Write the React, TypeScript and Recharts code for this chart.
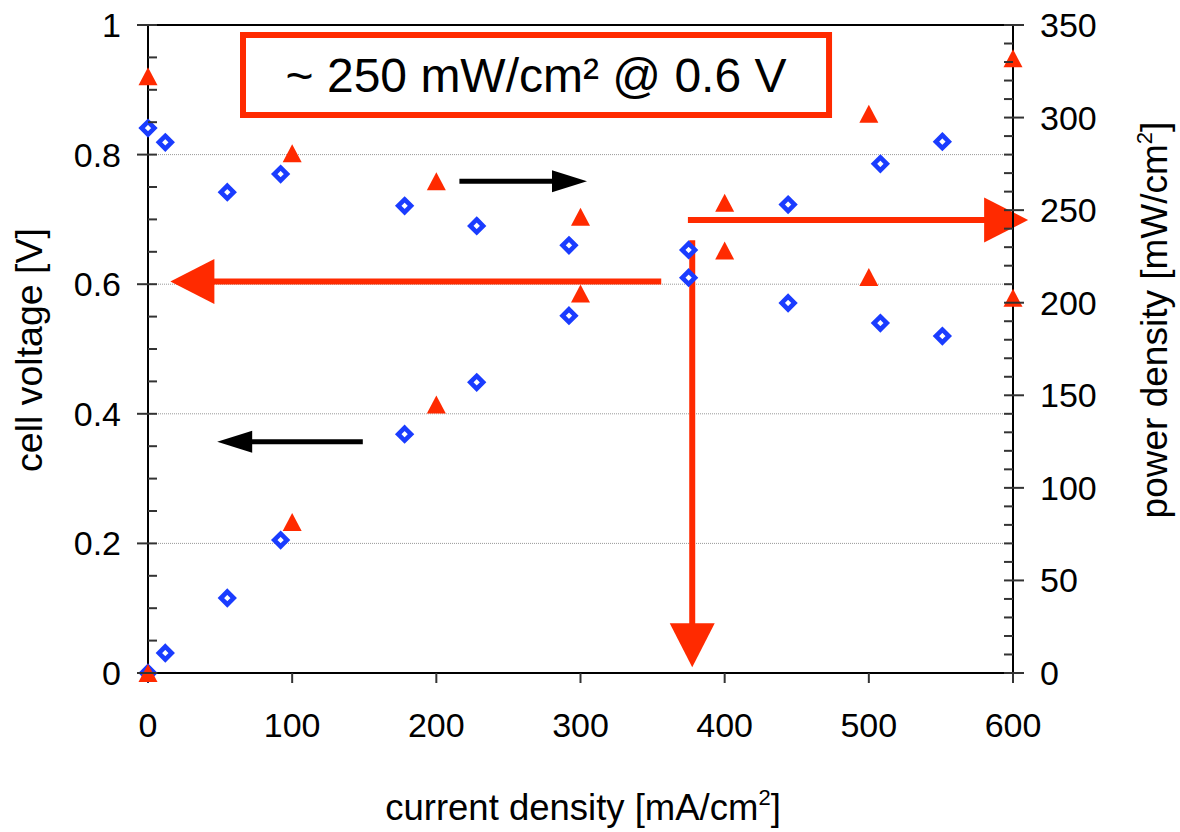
import {
  CartesianGrid,
  ReferenceArea,
  ReferenceLine,
  Scatter,
  ScatterChart,
  XAxis,
  YAxis,
} from 'recharts'

const FONT = '"Liberation Sans", Arial, sans-serif'
const RED = '#ff2a00'
const BLUE = '#1a3cff'

// blue diamonds: cell voltage (left) and power density (right)
const blueCurrent = [0, 12, 55, 92, 178, 228, 292, 375, 444, 508, 551]
const blueVoltage = [0.841, 0.819, 0.742, 0.77, 0.721, 0.69, 0.66, 0.61, 0.571, 0.54, 0.52]
const bluePower = [0, 10.8, 40.5, 71.8, 129, 157, 193, 228.5, 253, 275, 287]

// red triangles
const redCurrent = [0, 100, 200, 300, 400, 500, 600]
const redVoltage = [0.921, 0.802, 0.759, 0.704, 0.652, 0.611, 0.579]
const redPower = [0, 81.6, 145, 205, 254, 302, 332]

const xTicks = [0, 100, 200, 300, 400, 500, 600]
const leftTicks = [
  0, 0.05, 0.1, 0.15, 0.2, 0.25, 0.3, 0.35, 0.4, 0.45, 0.5, 0.55, 0.6, 0.65,
  0.7, 0.75, 0.8, 0.85, 0.9, 0.95, 1,
]
const rightTicks = [
  0, 10, 20, 30, 40, 50, 60, 70, 80, 90, 100, 110, 120, 130, 140, 150, 160,
  170, 180, 190, 200, 210, 220, 230, 240, 250, 260, 270, 280, 290, 300, 310,
  320, 330, 340, 350,
]
const gridValues = [0.2, 0.4, 0.6, 0.8]

// annotation arrows, in (current, voltage) units: [from, to]
const blackArrows = [
  [{ x: 216, y: 0.759 }, { x: 304.5, y: 0.759 }],
  [{ x: 149, y: 0.357 }, { x: 48, y: 0.357 }],
]
const redArrows = [
  [{ x: 356, y: 0.604 }, { x: 15.5, y: 0.604 }],
  [{ x: 377.5, y: 0.668 }, { x: 377.5, y: 0.009 }],
  [{ x: 374.5, y: 0.699 }, { x: 610.5, y: 0.699 }],
]

const toPoints = (xs: number[], ys: number[]) => xs.map((x, i) => ({ x, y: ys[i] }))

const Diamond = (p: any) => (
  <path
    d={`M${p.cx},${p.cy - 6.4}L${p.cx + 6.4},${p.cy}L${p.cx},${p.cy + 6.4}L${p.cx - 6.4},${p.cy}Z`}
    fill="#fff"
    stroke={BLUE}
    strokeWidth={4.6}
  />
)

const Triangle = (p: any) => (
  <polygon
    points={`${p.cx},${p.cy - 9} ${p.cx + 9.5},${p.cy + 9} ${p.cx - 9.5},${p.cy + 9}`}
    fill={RED}
  />
)

const makeArrow =
  (color: string, lineW: number, headLen: number, headHalf: number) =>
  (p: any) => {
    const { x1, y1, x2, y2 } = p
    const len = Math.hypot(x2 - x1, y2 - y1) || 1
    const ux = (x2 - x1) / len
    const uy = (y2 - y1) / len
    const bx = x2 - ux * headLen
    const by = y2 - uy * headLen
    const nx = -uy
    const ny = ux
    return (
      <g>
        <line
          x1={x1}
          y1={y1}
          x2={bx + ux * 2}
          y2={by + uy * 2}
          stroke={color}
          strokeWidth={lineW}
        />
        <polygon
          points={`${x2},${y2} ${bx + nx * headHalf},${by + ny * headHalf} ${bx - nx * headHalf},${by - ny * headHalf}`}
          fill={color}
        />
      </g>
    )
  }

const isMajor = (v: number, step: number) =>
  Math.abs(v / step - Math.round(v / step)) < 1e-6

const LeftTick = (p: any) => {
  const v: number = p.payload.value
  const major = isMajor(v, 0.2)
  return (
    <g>
      <line
        x1={major ? p.x - 11 : p.x}
        x2={p.x + 9}
        y1={p.y}
        y2={p.y}
        stroke="#333"
        strokeWidth={2}
      />
      {major && (
        <text x={p.x - 27} y={p.y + 12} textAnchor="end" fontSize={34} fontFamily={FONT} fill="#000">
          {v === 0 ? '0' : v === 1 ? '1' : v.toFixed(1)}
        </text>
      )}
    </g>
  )
}

const RightTick = (p: any) => {
  const v: number = p.payload.value
  const major = isMajor(v, 50)
  return (
    <g>
      <line
        x1={p.x - 9}
        x2={major ? p.x + 11 : p.x}
        y1={p.y}
        y2={p.y}
        stroke="#333"
        strokeWidth={2}
      />
      {major && (
        <text x={p.x + 27} y={p.y + 12} textAnchor="start" fontSize={34} fontFamily={FONT} fill="#000">
          {v}
        </text>
      )}
    </g>
  )
}

const XTitle = () => (
  <text x={583} y={820} textAnchor="middle" fontSize={36.5} fontFamily={FONT} fill="#000">
    current density [mA/cm
    <tspan dy={-15} fontSize={22}>
      2
    </tspan>
    <tspan dy={15}>]</tspan>
  </text>
)

const LeftTitle = () => (
  <text
    x={42}
    y={350}
    transform="rotate(-90, 42, 350)"
    textAnchor="middle"
    fontSize={37.5}
    fontFamily={FONT}
    fill="#000"
  >
    cell voltage [V]
  </text>
)

const RightTitle = () => (
  <text
    x={1167}
    y={320}
    transform="rotate(-90, 1167, 320)"
    textAnchor="middle"
    fontSize={37}
    fontFamily={FONT}
    fill="#000"
  >
    power density [mW/cm
    <tspan dy={-15} fontSize={22}>
      2
    </tspan>
    <tspan dy={15}>]</tspan>
  </text>
)

export default function App() {
  return (
    <div style={{ position: 'absolute', left: 0, top: 0, background: '#fff' }}>
      <ScatterChart
        width={1180}
        height={832}
        margin={{ top: 25, right: 0, bottom: 0, left: 0 }}
        style={{ fontFamily: FONT }}
      >
        <CartesianGrid
          yAxisId="left"
          vertical={false}
          horizontalValues={gridValues}
          stroke="#999"
          strokeDasharray="1 1"
        />
        <XAxis
          type="number"
          dataKey="x"
          domain={[0, 600]}
          ticks={xTicks}
          interval={0}
          height={159}
          tickSize={10}
          tickMargin={30}
          axisLine={{ stroke: '#000', strokeWidth: 2 }}
          tickLine={{ stroke: '#333', strokeWidth: 2 }}
          tick={{ fontSize: 34, fill: '#000', fontFamily: FONT }}
          label={XTitle}
        />
        <YAxis
          yAxisId="left"
          type="number"
          dataKey="y"
          domain={[0, 1]}
          ticks={leftTicks}
          interval={0}
          width={148}
          tickSize={0}
          tickMargin={0}
          tickLine={false}
          axisLine={{ stroke: '#000', strokeWidth: 2 }}
          tick={LeftTick}
          label={LeftTitle}
        />
        <YAxis
          yAxisId="right"
          orientation="right"
          type="number"
          dataKey="y"
          domain={[0, 350]}
          ticks={rightTicks}
          interval={0}
          width={167}
          tickSize={0}
          tickMargin={0}
          tickLine={false}
          axisLine={{ stroke: '#000', strokeWidth: 2 }}
          tick={RightTick}
          label={RightTitle}
        />
        <ReferenceLine yAxisId="left" y={1} stroke="#000" strokeWidth={2} />
        <ReferenceArea
          yAxisId="left"
          x1={65.9}
          x2={472.4}
          y1={0.861}
          y2={0.9846}
          fill="#fff"
          fillOpacity={1}
          stroke={RED}
          strokeWidth={6}
          label={{
            value: '~ 250 mW/cm² @ 0.6 V',
            position: 'center',
            fontSize: 48,
            fill: '#000',
            fontFamily: FONT,
          }}
        />
        <Scatter
          yAxisId="left"
          data={toPoints(blueCurrent, blueVoltage)}
          shape={Diamond}
          isAnimationActive={false}
        />
        <Scatter
          yAxisId="right"
          data={toPoints(blueCurrent, bluePower)}
          shape={Diamond}
          isAnimationActive={false}
        />
        <Scatter
          yAxisId="left"
          data={toPoints(redCurrent, redVoltage)}
          shape={Triangle}
          isAnimationActive={false}
        />
        <Scatter
          yAxisId="right"
          data={toPoints(redCurrent, redPower)}
          shape={Triangle}
          isAnimationActive={false}
        />
        {blackArrows.map((seg, i) => (
          <ReferenceLine
            key={`black-${i}`}
            yAxisId="left"
            segment={seg}
            ifOverflow="visible"
            shape={makeArrow('#000', 5, 35, 11)}
          />
        ))}
        {redArrows.map((seg, i) => (
          <ReferenceLine
            key={`red-${i}`}
            yAxisId="left"
            segment={seg}
            ifOverflow="visible"
            shape={makeArrow(RED, 6, 44, 22.5)}
          />
        ))}
      </ScatterChart>
    </div>
  )
}
